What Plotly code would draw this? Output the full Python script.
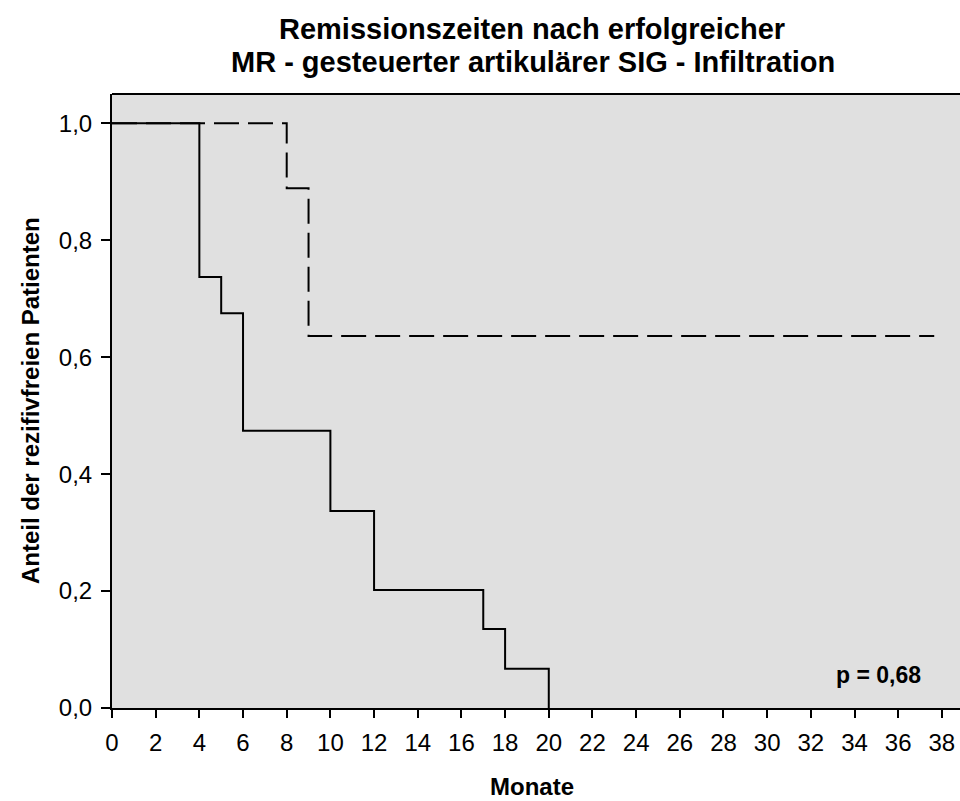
import plotly.graph_objects as go

# Kaplan-Meier step data
solid_x = [0, 4, 4, 5, 5, 6, 6, 10, 10, 12, 12, 17, 17, 18, 18, 20, 20]
solid_y = [1.0, 1.0, 0.737, 0.737, 0.675, 0.675, 0.474, 0.474, 0.337, 0.337, 0.202, 0.202, 0.135, 0.135, 0.067, 0.067, 0.0]
dashed_x = [0, 8, 8, 9, 9, 37.65]
dashed_y = [1.0, 1.0, 0.889, 0.889, 0.636, 0.636]

x_ticks = list(range(0, 40, 2))
y_ticks = [0.0, 0.2, 0.4, 0.6, 0.8, 1.0]
y_labels = ["0,0", "0,2", "0,4", "0,6", "0,8", "1,0"]

FONT = "Liberation Sans, Arial, sans-serif"

fig = go.Figure()
fig.add_trace(go.Scatter(x=dashed_x, y=dashed_y, mode="lines",
                         line=dict(color="black", width=2, dash="25px,9px"),
                         showlegend=False, hoverinfo="skip"))
fig.add_trace(go.Scatter(x=solid_x, y=solid_y, mode="lines",
                         line=dict(color="black", width=2),
                         showlegend=False, hoverinfo="skip"))

H = 801 - 94 - 93  # plot height in px
W = 960 - 112

def py(pix):
    return (708 - pix) / H

def px(pix):
    return (pix - 112) / W

fig.update_layout(
    width=960, height=801,
    margin=dict(l=112, r=0, t=94, b=93),
    paper_bgcolor="white", plot_bgcolor="#e0e0e0",
    font=dict(family=FONT, color="black"),
    xaxis=dict(range=[0, 38.83], tickvals=x_ticks, ticktext=[str(v) for v in x_ticks],
               showgrid=False, zeroline=False, showline=True, linecolor="black", linewidth=2,
               ticks="outside", ticklen=8, tickwidth=1.5, tickcolor="black",
               ticklabelstandoff=4,
               tickfont=dict(size=24, family=FONT)),
    yaxis=dict(range=[0, 1.05], tickvals=y_ticks, ticktext=y_labels,
               showgrid=False, zeroline=False, showline=True, linecolor="black", linewidth=2,
               ticks="outside", ticklen=9, tickwidth=1.5, tickcolor="black",
               ticklabelstandoff=4,
               tickfont=dict(size=24, family=FONT)),
    shapes=[dict(type="line", xref="paper", yref="paper", x0=0, x1=1, y0=1, y1=1,
                 line=dict(color="black", width=2))],
    annotations=[
        dict(text="<b>Remissionszeiten nach erfolgreicher</b>", x=px(532), y=py(29),
             xref="paper", yref="paper", xanchor="center", yanchor="middle", showarrow=False,
             font=dict(size=29, family=FONT)),
        dict(text="<b>MR - gesteuerter artikulärer SIG - Infiltration</b>", x=px(533), y=py(62),
             xref="paper", yref="paper", xanchor="center", yanchor="middle", showarrow=False,
             font=dict(size=29, family=FONT)),
        dict(text="<b>Monate</b>", x=px(532), y=py(786),
             xref="paper", yref="paper", xanchor="center", yanchor="middle", showarrow=False,
             font=dict(size=24, family=FONT)),
        dict(text="<b>Anteil der rezifivfreien Patienten</b>", x=px(30), y=py(401), textangle=-90,
             xref="paper", yref="paper", xanchor="center", yanchor="middle", showarrow=False,
             font=dict(size=24, family=FONT)),
        dict(text="<b>p = 0,68</b>", x=37.14, y=0.057, xref="x", yref="y",
             xanchor="right", yanchor="middle", showarrow=False,
             font=dict(size=23, family=FONT)),
    ],
)

fig.write_html("out.html")
